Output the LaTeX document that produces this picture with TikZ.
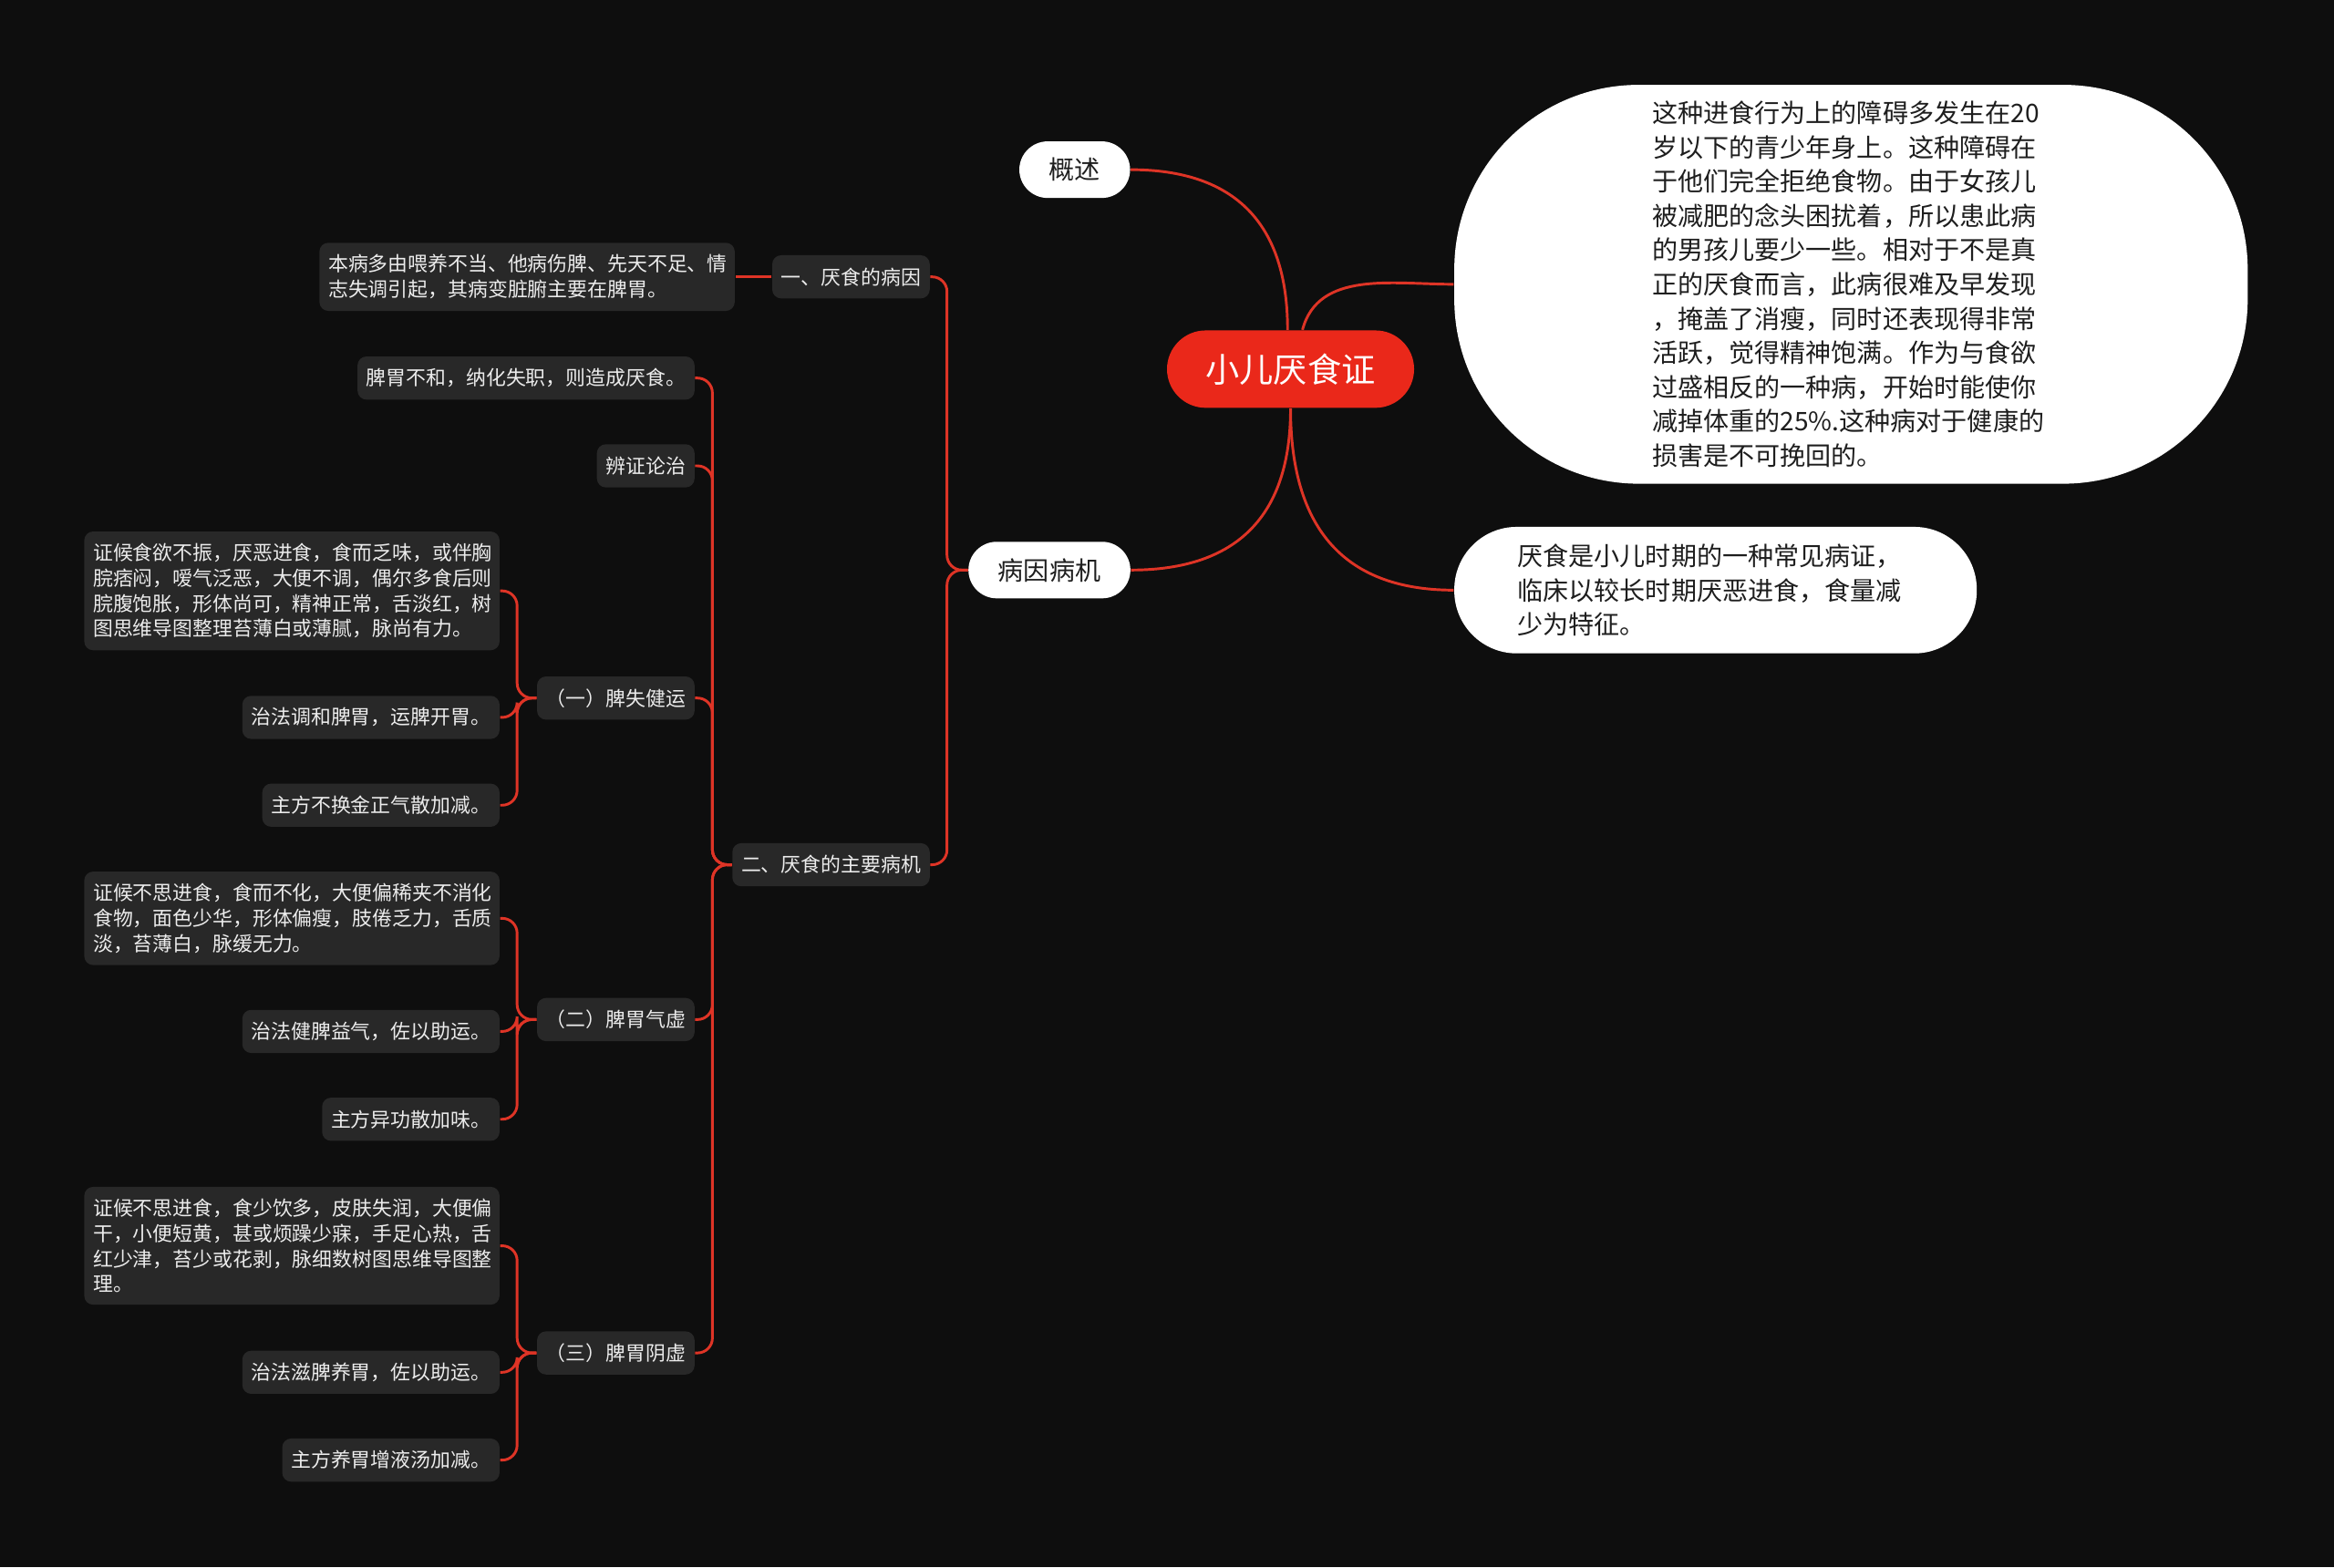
\documentclass[tikz,border=0pt]{standalone}
\usepackage{fontspec}
\setmainfont{Noto Sans CJK SC}

\definecolor{bgcol}{RGB}{14,14,14}
\definecolor{boxcol}{RGB}{40,40,40}
\definecolor{linecol}{RGB}{222,52,38}
\definecolor{rootcol}{RGB}{234,40,26}
\definecolor{txtcol}{RGB}{236,236,236}
\definecolor{inkcol}{RGB}{30,30,30}

\tikzset{
  leaf/.style={fill=boxcol, text=txtcol, rounded corners=3pt, inner xsep=3pt,
    inner ysep=0pt, minimum height=14.5pt, font=\fontsize{6.7}{8.5}\selectfont},
  para/.style={leaf, align=left, text width=133.5pt, inner ysep=4pt},
  pill/.style={fill=white, text=inkcol, rounded corners=9.5pt, inner xsep=10pt,
    minimum height=19pt, font=\fontsize{8.6}{11.5}\selectfont},
  branch/.style={draw=linecol, line width=0.9pt},
}

\begin{document}
\begin{tikzpicture}[x=0.5pt, y=-0.5pt]
    % background
    \fill[bgcol] (0,0) rectangle (1568,1053);
    \useasboundingbox (0,0) rectangle (1568,1053);

    % Root
    \node[fill=rootcol, text=white, rounded corners=13pt, inner xsep=13pt,
      minimum height=26pt, font=\fontsize{11.4}{14}\selectfont] (root) at (867,248) {小儿厌食证};

    % Right side
    \node[fill=white, text=inkcol, rounded corners=62pt, minimum width=266.5pt,
      minimum height=134pt, text width=133.5pt, align=left,
      font=\fontsize{8.6}{11.5}\selectfont] (intro) at (1243.5,191) {%
      这种进食行为上的障碍多发生在20\\岁以下的青少年身上。这种障碍在\\于他们完全拒绝食物。由于女孩儿\\被减肥的念头困扰着，所以患此病\\的男孩儿要少一些。相对于不是真\\正的厌食而言，此病很难及早发现\\，掩盖了消瘦，同时还表现得非常\\活跃，觉得精神饱满。作为与食欲\\过盛相反的一种病，开始时能使你\\减掉体重的25\%.这种病对于健康的\\损害是不可挽回的。};
    \node[fill=white, text=inkcol, rounded corners=21pt, minimum width=175.5pt,
      minimum height=42.5pt, text width=133pt, align=left,
      font=\fontsize{8.6}{11.5}\selectfont] (brief) at (1152.5,396.5) {%
      厌食是小儿时期的一种常见病证，\\临床以较长时期厌恶进食，食量减\\少为特征。};

    % Left main branches
    \node[pill] (gaishu) at (722,114) {概述};
    \node[pill] (bygj) at (705,383) {病因病机};

    \draw[branch] ([xshift=-1pt]root.north) to[out=90, in=0, looseness=1.2] (gaishu.east);
    \draw[branch] ([xshift=4pt]root.north) to[out=75, in=180] (intro.west);
    \draw[branch] (root.south) to[out=-90, in=0, looseness=1.2] (bygj.east);
    \draw[branch] (root.south) to[out=-90, in=180, looseness=1.2] (brief.west);

    % Causes
    \node[leaf, anchor=east] (yi) at (625,186) {一、厌食的病因};
    \node[para, anchor=east] (benbing) at (494,186) {本病多由喂养不当、他病伤脾、先天不足、情\\志失调引起，其病变脏腑主要在脾胃。};
    \node[leaf, anchor=east] (er) at (625,581) {二、厌食的主要病机};

    \foreach \c in {yi, er}
        \draw[branch, rounded corners=5pt] (bygj.west) -- ++(-14,0) |- (\c.east);
    \draw[branch] (yi.west) -- (benbing.east);

    % Mechanisms
    \node[leaf, anchor=east] (buhe) at (467,254) {脾胃不和，纳化失职，则造成厌食。};
    \node[leaf, anchor=east] (bianzheng) at (467,313) {辨证论治};
    \node[leaf, anchor=east] (pishi) at (467,469) {（一）脾失健运};
    \node[leaf, anchor=east] (qixu) at (467,685) {（二）脾胃气虚};
    \node[leaf, anchor=east] (yinxu) at (467,909) {（三）脾胃阴虚};

    \foreach \c in {buhe, bianzheng, pishi, qixu, yinxu}
        \draw[branch, rounded corners=5pt] (er.west) -- ++(-13,0) |- (\c.east);

    % (一) 脾失健运
    \node[para, anchor=east] (zh1) at (336,397) {证候食欲不振，厌恶进食，食而乏味，或伴胸\\脘痞闷，嗳气泛恶，大便不调，偶尔多食后则\\脘腹饱胀，形体尚可，精神正常，舌淡红，树\\图思维导图整理苔薄白或薄腻，脉尚有力。};
    \node[leaf, anchor=east] (zf1) at (336,482) {治法调和脾胃，运脾开胃。};
    \node[leaf, anchor=east] (zfang1) at (336,541) {主方不换金正气散加减。};

    % (二) 脾胃气虚
    \node[para, anchor=east] (zh2) at (336,617) {证候不思进食，食而不化，大便偏稀夹不消化\\食物，面色少华，形体偏瘦，肢倦乏力，舌质\\淡，苔薄白，脉缓无力。};
    \node[leaf, anchor=east] (zf2) at (336,693) {治法健脾益气，佐以助运。};
    \node[leaf, anchor=east] (zfang2) at (336,752) {主方异功散加味。};

    % (三) 脾胃阴虚
    \node[para, anchor=east] (zh3) at (336,837) {证候不思进食，食少饮多，皮肤失润，大便偏\\干，小便短黄，甚或烦躁少寐，手足心热，舌\\红少津，苔少或花剥，脉细数树图思维导图整\\理。};
    \node[leaf, anchor=east] (zf3) at (336,922) {治法滋脾养胃，佐以助运。};
    \node[leaf, anchor=east] (zfang3) at (336,981) {主方养胃增液汤加减。};

    \foreach \p/\a/\b/\c in {pishi/zh1/zf1/zfang1, qixu/zh2/zf2/zfang2, yinxu/zh3/zf3/zfang3}
        \foreach \k in {\a, \b, \c}
            \draw[branch, rounded corners=5pt] (\p.west) -- ++(-13,0) |- (\k.east);
\end{tikzpicture}
\end{document}
